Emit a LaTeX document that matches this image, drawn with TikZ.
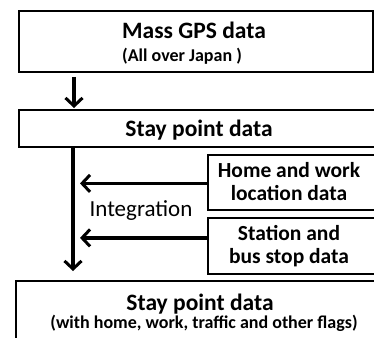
\documentclass[tikz,border=0pt]{standalone}
\usepackage{fontspec}
\setmainfont{Carlito}
\usetikzlibrary{arrows.meta}
\begin{document}
\begin{tikzpicture}[x=1pt,y=-1pt,
  box/.style={draw, line width=1.8pt, inner sep=0pt, align=center, font=\bfseries, anchor=north west},
  conn/.style={line width=3.2pt, -{Straight Barb[length=8pt,width=17pt,line width=3pt]}},
  big/.style={font=\bfseries\fontsize{23.5}{26}\selectfont},
  mid/.style={font=\bfseries\fontsize{21.5}{23}\selectfont},
  small/.style={font=\bfseries\fontsize{18}{20}\selectfont}]
\useasboundingbox (0,0) rectangle (374,337);
\clip (0,0) rectangle (374,337);
\fill[white] (0,0) rectangle (374,337);
% boxes
\node[box, minimum width=354pt, minimum height=61pt] (gps) at (18,10) {};
\node[big, anchor=base] (gpst) at (194,38) {Mass GPS data};
\node[small, anchor=base] (gpss) at (182,61) {(All over Japan )};
\node[box, minimum width=370pt, minimum height=37pt] (stay) at (18,109) {};
\node[big, anchor=base] (stayt) at (199,136) {Stay point data};
\node[box, minimum width=180pt, minimum height=55pt] (home) at (207,154) {};
\node[mid, anchor=base] (homea) at (289,177) {Home and work};
\node[mid, anchor=base] (homeb) at (289,200) {location data};
\node[box, minimum width=180pt, minimum height=56pt] (station) at (207,217) {};
\node[mid, anchor=base] (stationa) at (289,240) {Station and};
\node[mid, anchor=base] (stationb) at (289,263) {bus stop data};
\node[box, minimum width=380pt, minimum height=80pt] (final) at (15,280) {};
\node[big, anchor=base] (finalt) at (200,310) {Stay point data};
\node[small, anchor=base] (finals) at (204,328) {(with home, work, traffic and other flags)};
\node[font=\fontsize{23}{26}\selectfont, anchor=base] (integ) at (141,216) {Integration};
% connectors
\draw[conn] ([xshift=56pt,yshift=-4pt]gps.south west) -- ([xshift=56pt,yshift=1pt]stay.north west);
\draw[conn] ([xshift=55pt]stay.south west) -- ([xshift=58pt,yshift=9pt]final.north west);
\draw[conn] ([yshift=-1pt]home.west) -- ([xshift=62pt,yshift=-1pt]home.west -| stay.south west);
\draw[conn] ([yshift=8pt]station.west) -- ([xshift=62pt,yshift=8pt]station.west -| stay.south west);
\end{tikzpicture}
\end{document}
